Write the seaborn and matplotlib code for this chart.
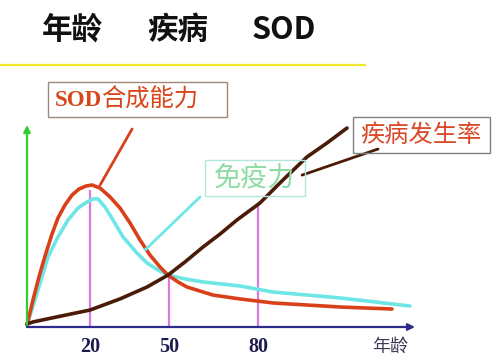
import matplotlib
matplotlib.use("Agg")

import matplotlib.pyplot as plt
import pandas as pd
import seaborn as sns
from matplotlib.lines import Line2D
from matplotlib.patches import Rectangle

# ============================================================
# Data (schematic units)
# ============================================================

sod_age = [0, 2.14, 4.28, 6.43, 8.92, 11.07, 13.56, 16.06, 18.56, 21.06, 23.2,
           26.06, 29.63, 33.2, 36.77, 40.34, 43.91, 47.48, 50.33, 53.9, 57.11,
           61.76, 66.4, 76.03, 87.81, 111.73, 130.29]
sod_val = [1.0, 13.4, 24.8, 35.1, 46.0, 54.0, 60.4, 65.3, 68.3, 69.8, 70.3,
           68.8, 64.4, 58.9, 51.5, 43.1, 35.6, 29.7, 25.7, 22.3, 19.8,
           17.8, 15.8, 13.9, 11.9, 9.9, 8.9]

imm_age = [0, 2.86, 5.35, 7.5, 11.07, 14.64, 18.21, 21.42, 23.56, 25.34, 27.84,
           30.7, 34.27, 39.27, 42.84, 46.76, 50.33, 56.4, 62.83, 76.03, 87.81,
           111.73, 136.72]
imm_val = [1.0, 13.4, 24.8, 34.7, 44.6, 53.0, 58.9, 61.9, 63.4, 63.4, 59.4,
           53.0, 44.6, 36.6, 31.7, 28.2, 25.7, 23.8, 22.3, 20.3, 17.3,
           14.4, 10.4]

dis_age = [0, 2.14, 10.71, 22.49, 33.2, 42.84, 50.33, 56.4, 62.83, 68.89, 74.96,
           83.17, 91.38, 99.95, 107.09, 114.23]
dis_val = [1.5, 2.5, 5.0, 8.4, 13.9, 19.8, 25.7, 32.2, 39.6, 46.0, 53.0,
           61.4, 72.8, 84.2, 91.1, 98.5]

marker_age = [22.5, 50.7, 82.5]
marker_top = [68.0, 25.7, 60.4]
marker_labels = ["20", "50", "80"]

curve_names = ["SOD合成能力", "免疫力", "疾病发生率"]

# ============================================================
# Style
# ============================================================

sns.set_style("white")
plt.rcParams["font.family"] = ["Noto Sans CJK SC", "DejaVu Sans"]

W, H = 503, 358


def fpos(x, y):
    return x / W, 1 - y / H


fig = plt.figure(figsize=(W / 100, H / 100), dpi=100)
ax = fig.add_axes([27 / W, (H - 327) / H, 388 / W, 202 / H])

colors = {"SOD合成能力": "#d8401a", "免疫力": "#6ee6e6", "疾病发生率": "#4a1c08"}

df = pd.concat([
    pd.DataFrame({"age": imm_age, "val": imm_val, "curve": curve_names[1]}),
    pd.DataFrame({"age": sod_age, "val": sod_val, "curve": curve_names[0]}),
    pd.DataFrame({"age": dis_age, "val": dis_val, "curve": curve_names[2]}),
])

sns.lineplot(
    data=df, x="age", y="val", hue="curve", palette=colors,
    hue_order=[curve_names[1], curve_names[0], curve_names[2]],
    estimator=None, sort=False, linewidth=2.6, legend=False, ax=ax
)
for line in ax.lines:
    line.set_solid_capstyle("round")
    line.set_solid_joinstyle("round")
    line.set_clip_on(False)

# marker lines at 20 / 50 / 80
ax.vlines(marker_age, 0, marker_top, color="#d67be0", lw=1.6, zorder=1)

# leader lines
ax.plot([26.1, 37.5], [70.3, 98.0], color=colors["SOD合成能力"], lw=2, clip_on=False)
ax.plot([42.1, 61.8], [38.1, 64.4], color=colors["免疫力"], lw=2, clip_on=False)
ax.plot([98.2, 125.3], [75.2, 88.1], color=colors["疾病发生率"], lw=2, clip_on=False)

ax.set_xlim(0, 138.5)
ax.set_ylim(0, 100)
sns.despine(ax=ax, left=True, bottom=True, top=True, right=True)

ax.set_xticks(marker_age)
ax.set_xticklabels(marker_labels, family="Liberation Serif", fontweight="bold",
                   fontsize=14.5, color="#1c1c4c")
ax.set_yticks([])
ax.set_xlabel("")
ax.set_ylabel("")
ax.tick_params(axis="x", length=0, pad=7)

# axis arrows
ax.annotate("", xy=(0, 1), xytext=(0, 0), xycoords="axes fraction",
            arrowprops=dict(arrowstyle="-|>", color="#33cc33", lw=1.6,
                            mutation_scale=10, shrinkA=0, shrinkB=0))
ax.annotate("", xy=(1, 0), xytext=(0, 0), xycoords="axes fraction",
            arrowprops=dict(arrowstyle="-|>", color="#2b2b8c", lw=1.6,
                            mutation_scale=10, shrinkA=0, shrinkB=0))

fig.text(*fpos(390, 347), "年龄", ha="center", va="center", fontsize=13, color="#3a3a5a")

# ============================================================
# Title and labels
# ============================================================

for txt, x in [("年龄", 42), ("疾病", 147), ("SOD", 252)]:
    fig.text(*fpos(x, 30), txt, ha="left", va="center", fontsize=22,
             fontweight="bold", color="#111111")

x0, y0 = fpos(0, 65)
x1, _ = fpos(365, 65)
fig.add_artist(Line2D([x0, x1], [y0, y0], color="#f2e62a", lw=1.6))


def box(x, y, w, h, edge):
    bx, by = fpos(x, y + h)
    fig.add_artist(Rectangle((bx, by), w / W, h / H, transform=fig.transFigure,
                             fill=False, edgecolor=edge, lw=1))


box(48, 82, 179, 35, "#a08878")
fig.text(*fpos(55, 100), "SOD", ha="left", va="center", family="Liberation Serif",
         fontweight="bold", fontsize=16.5, color="#d8461a")
fig.text(*fpos(101, 100), "合成能力", ha="left", va="center", fontsize=17.5, color="#d8461a")

box(205, 160, 100, 36, "#b0e8e0")
fig.text(*fpos(214, 178), "免疫力", ha="left", va="center", fontsize=19.5, color="#8edca4")

box(353, 117, 137, 36, "#808080")
fig.text(*fpos(421, 135), "疾病发生率", ha="center", va="center", fontsize=17.5, color="#d94a2a")

fig.savefig("out.png", dpi=100)
